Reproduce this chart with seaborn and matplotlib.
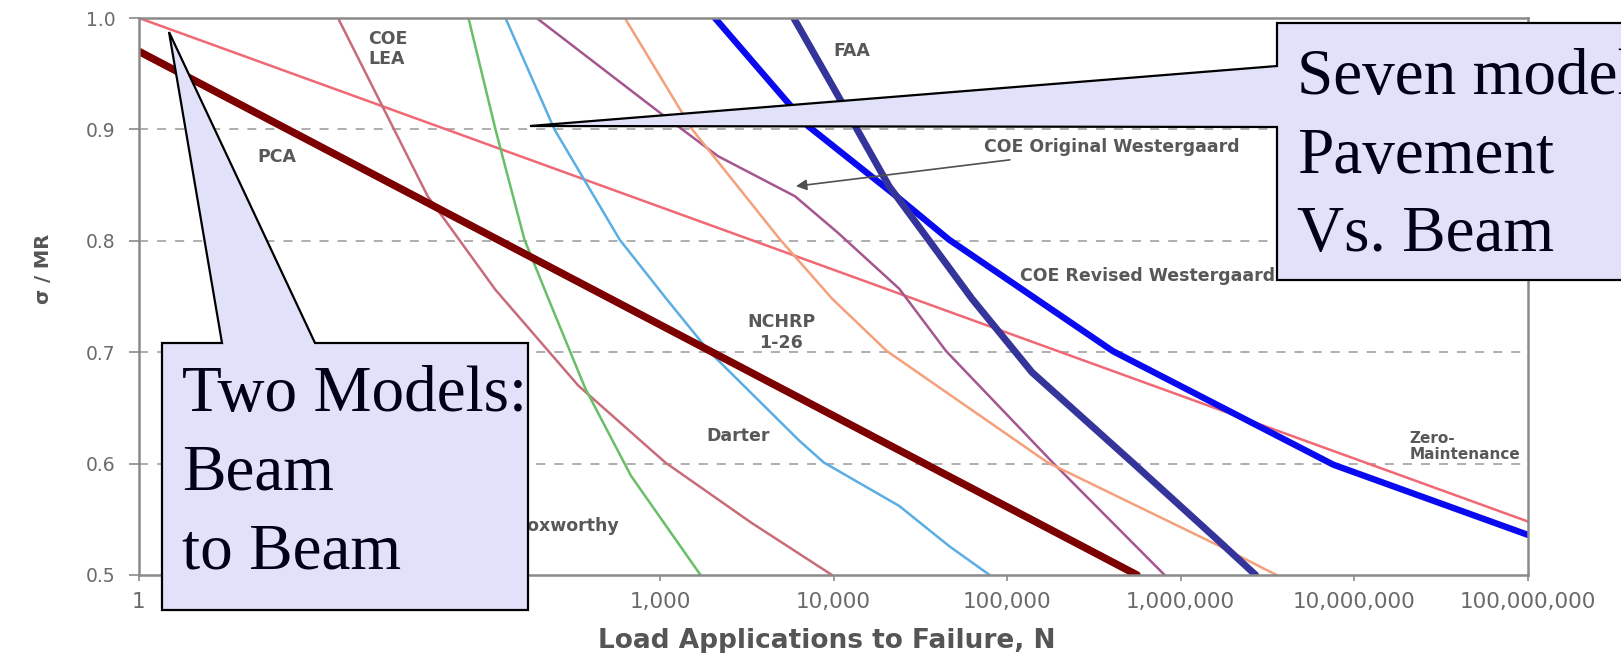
import numpy as np
import pandas as pd
import matplotlib
matplotlib.use('Agg')
import matplotlib.pyplot as plt
from matplotlib.patches import Polygon
from matplotlib.ticker import FuncFormatter, FixedLocator, NullLocator
import seaborn as sns

# fatigue curves: load applications N vs sigma/MR
zero_n = [1, 1e8]
zero_y = [1.0, 0.548]
beam_n = [1, 5.6e5]
beam_y = [0.97, 0.50]
lea_n = [14, 46, 113, 339, 1074, 3357, 9800]
lea_y = [1.0, 0.84, 0.756, 0.670, 0.601, 0.547, 0.50]
fox_n = [79, 113, 166, 228, 373, 682, 1714]
fox_y = [1.0, 0.90, 0.801, 0.748, 0.667, 0.589, 0.50]
darter_n = [129, 247, 587, 1089, 1914, 6310, 8790, 23900, 46300, 79300]
darter_y = [1.0, 0.90, 0.801, 0.748, 0.701, 0.621, 0.601, 0.562, 0.526, 0.50]
orig_n = [195, 1000, 2160, 6000, 10640, 23900, 44500, 183000, 807000]
orig_y = [1.0, 0.915, 0.876, 0.84, 0.807, 0.757, 0.701, 0.601, 0.50]
nchrp_n = [628, 1535, 4930, 9820, 20300, 171000, 1.67e6, 3.56e6]
nchrp_y = [1.0, 0.90, 0.801, 0.748, 0.701, 0.601, 0.526, 0.50]
revised_n = [2075, 7140, 23900, 46300, 406000, 7.57e6, 1e8]
revised_y = [1.0, 0.903, 0.838, 0.801, 0.701, 0.599, 0.536]
faa_n = [5900, 10640, 20900, 62700, 139000, 527000, 1.67e6, 2.7e6]
faa_y = [1.0, 0.93, 0.849, 0.748, 0.682, 0.601, 0.530, 0.50]

x_ticks = [1, 10, 100, 1e3, 1e4, 1e5, 1e6, 1e7, 1e8]
y_ticks = [0.5, 0.6, 0.7, 0.8, 0.9, 1.0]

sns.set_theme(style='white')
plt.rcParams['font.family'] = ['DejaVu Sans']

W, H = 1621, 653
fig = plt.figure(figsize=(W / 100, H / 100), dpi=100)
ax = fig.add_axes([139 / W, 1 - 575 / H, (1528 - 139) / W, (575 - 18) / H])

# (x, y, colour, width)
curves = [
    (zero_n, zero_y, '#f06874', 1.8),
    (lea_n, lea_y, '#c86c7a', 1.8),
    (fox_n, fox_y, '#68bf68', 1.8),
    (darter_n, darter_y, '#5aaee4', 1.8),
    (orig_n, orig_y, '#a4568f', 1.8),
    (nchrp_n, nchrp_y, '#f4a07a', 1.8),
    (beam_n, beam_y, '#7d0000', 5.4),
    (revised_n, revised_y, '#0a0af0', 4.6),
    (faa_n, faa_y, '#34349a', 5.0),
]
for xs, ys, c, lw in curves:
    sns.lineplot(x=xs, y=ys, color=c, lw=lw, ax=ax, estimator=None, sort=False)

ax.set_xscale('log')
ax.set_xlim(1, 1e8)
ax.set_ylim(0.5, 1.0)
ax.xaxis.set_major_locator(FixedLocator(x_ticks))
ax.xaxis.set_minor_locator(NullLocator())
ax.xaxis.set_major_formatter(FuncFormatter(lambda v, p: f'{int(round(v)):,}'))
ax.yaxis.set_major_locator(FixedLocator(y_ticks))
ax.yaxis.set_major_formatter(FuncFormatter(lambda v, p: f'{v:.1f}'))

grey = '#6a6a6a'
for s in ax.spines.values():
    s.set_color('#8a8a8a')
    s.set_linewidth(1.8)
ax.tick_params(axis='x', length=4, width=1.2, color='#8a8a8a', labelsize=15.5,
               labelcolor=grey, pad=8, bottom=True)
ax.tick_params(axis='y', length=7, width=1.2, color='#8a8a8a', labelsize=13.5,
               labelcolor=grey, pad=10, left=True)
ax.grid(False)
for yv in y_ticks[1:-1]:
    ax.axhline(yv, color='#a8a8a8', lw=1.3, ls=(0, (5, 5)), zorder=0)

ax.set_xlabel('Load Applications to Failure, N', fontsize=19, fontweight='bold', color='#555555')
ax.xaxis.set_label_coords(0.495, -0.096)
ax.set_ylabel('σ / MR', fontsize=14, fontweight='bold', color='#555555')
ax.yaxis.set_label_coords(-0.062, 0.55)

lab = dict(fontsize=12.5, fontweight='bold', color='#585858')
ax.text(21, 0.972, 'COE\nLEA', ha='left', va='center', linespacing=1.1, **lab)
ax.text(6.2, 0.875, 'PCA', ha='center', va='center', **lab)
ax.text(12700, 0.970, 'FAA', ha='center', va='center', **lab)
ax.annotate('COE Original Westergaard', xy=(6070, 0.849), xytext=(74000, 0.884),
            ha='left', va='center',
            arrowprops=dict(arrowstyle='-|>', color='#505050', lw=1.2, mutation_scale=16,
                            shrinkA=2, shrinkB=0), **lab)
ax.text(119000, 0.768, 'COE Revised Westergaard', ha='left', va='center', **lab)
ax.text(5000, 0.718, 'NCHRP\n1-26', ha='center', va='center', linespacing=1.2, **lab)
ax.text(2810, 0.625, 'Darter', ha='center', va='center', **lab)
ax.text(150, 0.544, 'Foxworthy', ha='left', va='center', **lab)
ax.text(2.07e7, 0.615, 'Zero-\nMaintenance', ha='left', va='center', linespacing=1.1,
        fontsize=11, fontweight='bold', color='#585858')


def to_fig(pts):
    return [(x / W, 1 - y / H) for x, y in pts]


fill = '#e1e1fa'
call1 = [(162, 343), (222, 343), (169, 32), (315, 343), (528, 343), (528, 610), (162, 610)]
call2 = [(1277, 23), (1680, 23), (1680, 280), (1277, 280), (1277, 127), (530, 126), (1277, 66)]
for pts in (call1, call2):
    fig.patches.append(Polygon(to_fig(pts), closed=True, transform=fig.transFigure,
                               facecolor=fill, edgecolor='black', lw=1.6, zorder=5))

serif = dict(fontsize=47, family='Liberation Serif', color='#000018', zorder=6,
             ha='left', va='center', linespacing=1.42)
fig.text(182 / W, 1 - 474 / H, 'Two Models:\nBeam\nto Beam', **serif)
fig.text(1297 / W, 1 - 157 / H, 'Seven models\nPavement\nVs. Beam', **serif)

fig.savefig('out.png', dpi=100)
